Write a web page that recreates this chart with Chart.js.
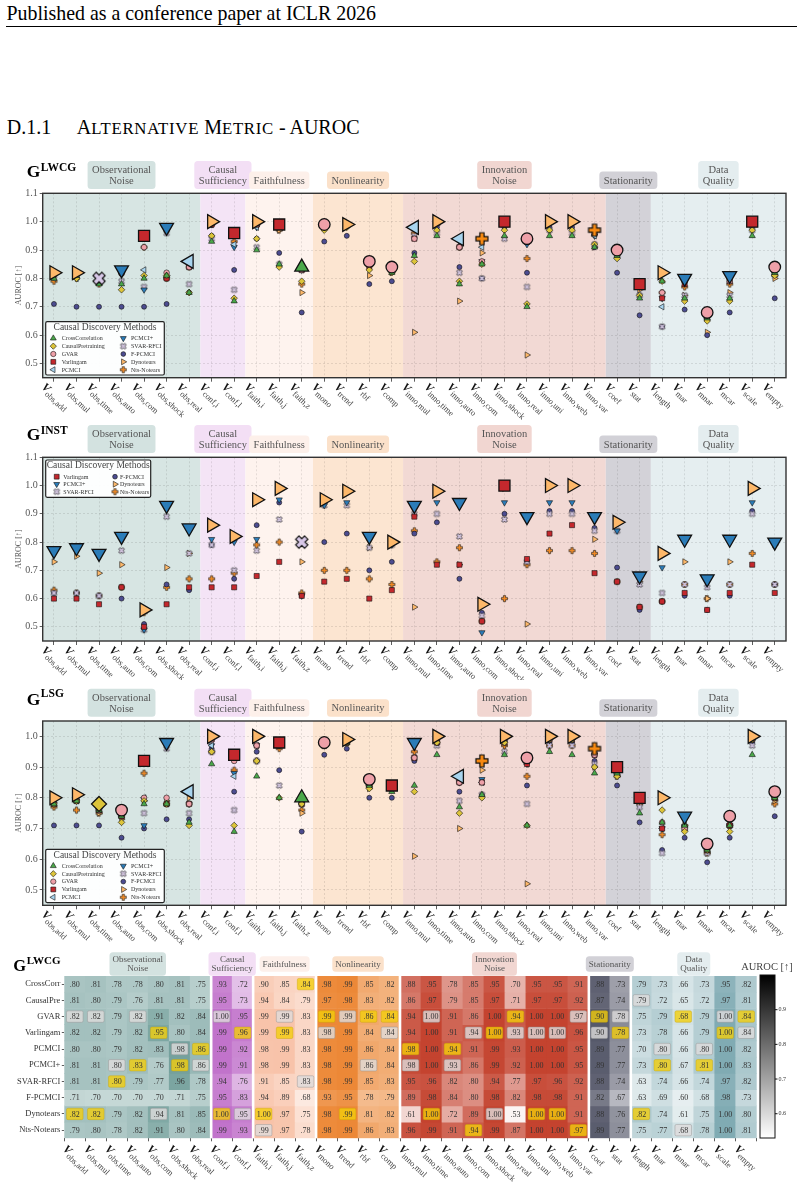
<!DOCTYPE html>
<html>
<head>
<meta charset="utf-8">
<script src="https://cdn.jsdelivr.net/npm/chart.js@4.4.1/dist/chart.umd.min.js"></script>
<style>
  body { margin: 0; background: #fff; width: 804px; height: 1186px; position: relative; overflow: hidden;
         font-family: "Liberation Serif", "Times New Roman", serif; color: #000; }
  canvas { position: absolute; left: 0; }
  .txt { position: absolute; white-space: nowrap; line-height: 1; }
  .sc { font-size: 16.8px; letter-spacing: 0.7px; }
</style>
</head>
<body>
<div class="txt" style="left:6.5px;top:4px;font-size:19.9px;">Published as a conference paper at ICLR 2026</div>
<div style="position:absolute;left:6px;top:26px;width:791px;border-top:1px solid #000;"></div>
<div class="txt" style="left:6.7px;top:116.6px;font-size:20px;">D.1.1</div>
<div class="txt" style="left:76.7px;top:116.6px;font-size:20px;">A<span class="sc">LTERNATIVE</span> M<span class="sc">ETRIC</span> - AUROC</div>

<canvas id="lwcg" width="804" height="270" style="top:150px"></canvas>
<canvas id="inst" width="804" height="260" style="top:420px"></canvas>
<canvas id="lsg" width="804" height="265" style="top:680px"></canvas>
<canvas id="heat" width="804" height="241" style="top:945px"></canvas>

<script>
var FONT = '"Liberation Serif", "Times New Roman", serif';

// ---- data ----
var columns = ['obs,add', 'obs,mul', 'obs,time', 'obs,auto', 'obs,com', 'obs,shock', 'obs,real',
  'conf,i', 'conf,l', 'faith,i', 'faith,j', 'faith,z', 'mono', 'trend', 'rbf', 'comp',
  'inno,mul', 'inno,time', 'inno,auto', 'inno,com', 'inno,shock', 'inno,real', 'inno,uni', 'inno,web', 'inno,var',
  'coef', 'stat', 'length', 'mar', 'mnar', 'mcar', 'scale', 'empty'];
var groupNames = [['Observational', 'Noise'], ['Causal', 'Sufficiency'], ['Faithfulness'], ['Nonlinearity'],
  ['Innovation', 'Noise'], ['Stationarity'], ['Data', 'Quality']];
var groupSizes = [7, 2, 3, 4, 9, 2, 6];

var methods = ['CrossCorrelation', 'CausalPretraining', 'GVAR', 'Varlingam', 'PCMCI', 'PCMCI+',
  'SVAR-RFCI', 'F-PCMCI', 'Dynotears', 'Nts-Notears'];
var heatRows = ['CrossCorr', 'CausalPre', 'GVAR', 'Varlingam', 'PCMCI', 'PCMCI+', 'SVAR-RFCI',
  'F-PCMCI', 'Dynotears', 'Nts-Notears'];

// G^LWCG (scatter + heatmap)
var lwcgCrossCorr = [.80, .81, .78, .78, .80, .81, .75, .93, .72, .90, .85, .84, .98, .99, .85, .82, .88, .95, .78, .85, .95, .70, .95, .95, .91, .88, .73, .79, .73, .66, .73, .95, .82];
var lwcgCausalPre = [.81, .80, .79, .76, .81, .81, .75, .95, .73, .94, .84, .79, .97, .98, .83, .82, .86, .97, .79, .85, .97, .71, .97, .97, .92, .87, .74, .79, .72, .65, .72, .97, .81];
var lwcgGVAR = [.82, .82, .79, .82, .91, .82, .84, 1.00, .95, .99, .99, .83, .99, .99, .86, .84, .94, 1.00, .91, .86, 1.00, .94, 1.00, 1.00, .97, .90, .78, .75, .79, .68, .79, 1.00, .84];
var lwcgVarlingam = [.82, .82, .79, .82, .95, .80, .84, .99, .96, .99, .99, .83, .98, .99, .84, .84, .94, 1.00, .91, .94, 1.00, .93, 1.00, 1.00, .96, .90, .78, .73, .78, .66, .79, 1.00, .84];
var lwcgPCMCI = [.80, .80, .79, .82, .83, .98, .86, .99, .92, .98, .99, .83, .98, .99, .86, .84, .98, 1.00, .94, .91, .99, .93, 1.00, 1.00, .95, .89, .77, .70, .80, .66, .80, 1.00, .82];
var lwcgPCMCIplus = [.81, .81, .80, .83, .76, .98, .86, .99, .91, .98, .99, .83, .98, .99, .86, .84, .98, 1.00, .93, .86, .99, .92, 1.00, 1.00, .95, .89, .77, .73, .80, .67, .81, 1.00, .83];
var lwcgSVAR = [.81, .81, .80, .79, .77, .96, .78, .94, .76, .91, .85, .83, .98, .99, .85, .83, .95, .96, .82, .80, .94, .77, .97, .96, .92, .88, .74, .63, .74, .66, .74, .97, .82];
var lwcgFPCMCI = [.71, .70, .70, .70, .70, .71, .75, .95, .83, .94, .89, .68, .93, .95, .78, .79, .89, .98, .84, .80, .98, .82, .98, .98, .91, .82, .67, .63, .69, .60, .68, .98, .73];
var lwcgDynotears = [.82, .82, .79, .82, .94, .81, .85, 1.00, .95, 1.00, .97, .75, .98, .99, .81, .82, .61, 1.00, .72, .89, 1.00, .53, 1.00, 1.00, .91, .88, .76, .82, .74, .61, .75, 1.00, .80];
var lwcgNts = [.79, .80, .78, .82, .91, .80, .84, .99, .93, .99, .97, .78, .98, .99, .86, .83, .96, .99, .91, .94, .99, .87, 1.00, 1.00, .97, .89, .77, .75, .77, .68, .78, 1.00, .81];
var lwcg = [lwcgCrossCorr, lwcgCausalPre, lwcgGVAR, lwcgVarlingam, lwcgPCMCI, lwcgPCMCIplus, lwcgSVAR, lwcgFPCMCI, lwcgDynotears, lwcgNts];
var bestLWCG = ['Dynotears', 'Dynotears', 'SVAR-RFCI', 'PCMCI+', 'Varlingam', 'PCMCI+', 'PCMCI', 'Dynotears', 'Varlingam',
  'Dynotears', 'Varlingam', 'CrossCorrelation', 'GVAR', 'Dynotears', 'GVAR', 'GVAR', 'PCMCI', 'Dynotears', 'PCMCI',
  'Nts-Notears', 'Varlingam', 'GVAR', 'Dynotears', 'Dynotears', 'Nts-Notears', 'GVAR', 'Varlingam', 'Dynotears',
  'PCMCI+', 'GVAR', 'PCMCI+', 'Varlingam', 'GVAR'];
var secondLWCG = ['GVAR', 'GVAR', 'PCMCI+', 'GVAR', 'Dynotears', 'PCMCI', 'PCMCI+', 'GVAR', 'Dynotears',
  'Nts-Notears', 'GVAR', 'SVAR-RFCI', 'Varlingam', 'GVAR', 'PCMCI+', 'Varlingam', 'PCMCI+', 'GVAR', 'PCMCI+',
  'Varlingam', 'Dynotears', 'Varlingam', 'Varlingam', 'Varlingam', 'GVAR', 'Varlingam', 'GVAR', 'CausalPretraining',
  'PCMCI', 'Nts-Notears', 'PCMCI', 'GVAR', 'Varlingam'];

// G^INST (six methods)
var instMethods = ['Varlingam', 'PCMCI+', 'SVAR-RFCI', 'F-PCMCI', 'Dynotears', 'Nts-Notears'];
var instVarlingam = [.60, .60, .58, .64, .50, .58, .64, .64, .64, .68, .73, .61, .66, .67, .60, .63, .89, .72, .72, .52, 1.00, .74, .83, .86, .69, .66, .57, .59, .62, .56, .62, .72, .62];
var instPCMCIplus = [.77, .78, .76, .82, .49, .93, .85, .81, .80, .81, .95, .61, .93, .94, .82, .79, .93, .94, .94, .48, .94, .89, .94, .94, .89, .84, .68, .71, .81, .67, .81, .94, .80];
var instSVAR = [.62, .62, .61, .77, .49, .89, .76, .79, .70, .77, .88, .80, .93, .93, .78, .79, .90, .90, .82, .54, .88, .73, .90, .90, .84, .84, .65, .62, .65, .64, .65, .90, .65];
var instFPCMCI = [.62, .62, .61, .60, .51, .65, .63, .79, .67, .86, .94, .61, .80, .83, .70, .73, .83, .87, .67, .55, .90, .73, .91, .91, .85, .71, .56, .59, .61, .56, .61, .91, .65];
var instDynotears = [.73, .75, .69, .72, .56, .71, .76, .86, .82, .95, .99, .73, .95, .98, .78, .80, .57, .98, .72, .58, .99, .51, 1.00, 1.00, .81, .87, .66, .76, .73, .60, .73, .99, .79];
var instNts = [.63, .62, .61, .64, .55, .64, .67, .67, .69, .79, .80, .62, .70, .70, .67, .65, .84, .73, .78, .52, .60, .72, .77, .77, .76, .66, .57, .59, .65, .60, .65, .76, .65];
var inst = [instVarlingam, instPCMCIplus, instSVAR, instFPCMCI, instDynotears, instNts];
var bestINST = ['PCMCI+', 'PCMCI+', 'PCMCI+', 'PCMCI+', 'Dynotears', 'PCMCI+', 'PCMCI+', 'Dynotears', 'Dynotears',
  'Dynotears', 'Dynotears', 'SVAR-RFCI', 'Dynotears', 'Dynotears', 'PCMCI+', 'Dynotears', 'PCMCI+', 'Dynotears',
  'PCMCI+', 'Dynotears', 'Varlingam', 'PCMCI+', 'Dynotears', 'Dynotears', 'PCMCI+', 'Dynotears', 'PCMCI+',
  'Dynotears', 'PCMCI+', 'PCMCI+', 'PCMCI+', 'Dynotears', 'PCMCI+'];

// G^LSG
var lsgCrossCorr = [.78, .79, .76, .74, .78, .78, .72, .91, .69, .87, .80, .80, .97, .98, .84, .82, .84, .94, .77, .81, .94, .71, .95, .94, .88, .88, .75, .72, .71, .63, .71, .94, .80];
var lsgCausalPre = [.78, .79, .78, .72, .79, .78, .71, .95, .71, .92, .80, .78, .97, .98, .83, .83, .82, .98, .75, .80, .98, .71, .99, .99, .90, .87, .79, .76, .69, .63, .69, .99, .80];
var lsgGVAR = [.78, .79, .76, .76, .80, .80, .78, .99, .92, .97, .97, .78, .98, .98, .86, .83, .93, .98, .85, .85, .98, .93, .99, .99, .94, .88, .79, .72, .70, .65, .74, .99, .82];
var lsgVarlingam = [.78, .79, .76, .74, .92, .78, .78, .99, .94, .97, .98, .78, .97, .98, .84, .84, .93, .98, .85, .85, .98, .91, .99, .99, .94, .90, .80, .70, .70, .63, .71, .99, .80];
var lsgPCMCI = [.78, .79, .76, .74, .80, .78, .82, .97, .87, .97, .97, .78, .97, .98, .84, .83, .93, .98, .87, .85, .98, .91, .99, .99, .94, .88, .79, .70, .71, .63, .71, .99, .80];
var lsgPCMCIplus = [.78, .79, .76, .74, .71, .98, .78, .97, .88, .97, .97, .78, .97, .98, .84, .83, .98, .98, .85, .86, .98, .91, .99, .99, .94, .88, .79, .70, .74, .63, .71, .99, .80];
var lsgSVAR = [.78, .79, .76, .74, .75, .96, .75, .95, .76, .92, .84, .78, .97, .98, .84, .83, .93, .97, .79, .81, .95, .78, .97, .97, .91, .88, .77, .62, .70, .62, .71, .97, .80];
var lsgFPCMCI = [.71, .71, .71, .67, .70, .73, .73, .96, .82, .95, .89, .69, .94, .96, .80, .80, .92, .98, .82, .81, .99, .84, .98, .98, .92, .84, .72, .63, .67, .59, .67, .98, .74];
var lsgDynotears = [.80, .81, .75, .73, .79, .79, .80, 1.00, .93, 1.00, .97, .75, .97, .99, .83, .83, .61, 1.00, .70, .89, 1.00, .52, 1.00, 1.00, .90, .87, .78, .80, .71, .62, .71, 1.00, .79];
var lsgNts = [.77, .76, .75, .74, .88, .78, .78, .95, .89, .92, .96, .76, .97, .98, .84, .83, .95, .98, .85, .92, .97, .87, .97, .97, .96, .87, .78, .68, .71, .62, .71, .99, .78];
var lsg = [lsgCrossCorr, lsgCausalPre, lsgGVAR, lsgVarlingam, lsgPCMCI, lsgPCMCIplus, lsgSVAR, lsgFPCMCI, lsgDynotears, lsgNts];
var bestLSG = ['Dynotears', 'Dynotears', 'CausalPretraining', 'GVAR', 'Varlingam', 'PCMCI+', 'PCMCI', 'Dynotears', 'Varlingam',
  'Dynotears', 'Varlingam', 'CrossCorrelation', 'GVAR', 'Dynotears', 'GVAR', 'Varlingam', 'PCMCI+', 'Dynotears', 'PCMCI',
  'Nts-Notears', 'Dynotears', 'GVAR', 'Dynotears', 'Dynotears', 'Nts-Notears', 'Varlingam', 'Varlingam', 'Dynotears',
  'PCMCI+', 'GVAR', 'GVAR', 'Dynotears', 'GVAR'];

// ---- styles ----
var bandColors = ['#d7e5e3', '#f4e4f6', '#fef3ee', '#fce5d1', '#f2d9d4', '#d3d2d8', '#e5eef0'];
var boxColors = ['#d3e2e0', '#f3dff5', '#fdf0ea', '#fbe1ca', '#f1d6d1', '#d2d1d7', '#e4edef'];
var heatDark = ['#6f9d99', '#c070ca', '#f8c2a8', '#ec8633', '#c4432f', '#2c2f45', '#80abb3'];

function plusShape(kind, a, b, fill, lw) {
  var s = Math.ceil(2 * a + 2 * lw + 3);
  var c = document.createElement('canvas');
  c.width = s; c.height = s;
  var g = c.getContext('2d');
  g.translate(s / 2, s / 2);
  if (kind === 'X') g.rotate(Math.PI / 4);
  var p = [[-b, -a], [b, -a], [b, -b], [a, -b], [a, b], [b, b], [b, a], [-b, a], [-b, b], [-a, b], [-a, -b], [-b, -b]];
  g.beginPath();
  p.forEach(function (q, i) { if (i) g.lineTo(q[0], q[1]); else g.moveTo(q[0], q[1]); });
  g.closePath();
  g.fillStyle = fill; g.fill();
  g.lineWidth = lw; g.strokeStyle = '#111'; g.stroke();
  return c;
}

var mStyle = {
  'CrossCorrelation': { fill: '#4aa84a', style: 'triangle', rot: 0, r: 3.6, R: 8 },
  'CausalPretraining': { fill: '#dcc43a', style: 'rectRot', rot: 0, r: 3.3, R: 7.5 },
  'GVAR': { fill: '#eea0a8', style: 'circle', rot: 0, r: 2.8, R: 5.8 },
  'Varlingam': { fill: '#c4282d', style: 'rect', rot: 0, r: 3.6, R: 7.8 },
  'PCMCI': { fill: '#a8d4ee', style: 'triangle', rot: -90, r: 3.6, R: 8 },
  'PCMCI+': { fill: '#2b7cb8', style: 'triangle', rot: 180, r: 3.6, R: 8 },
  'SVAR-RFCI': { fill: '#cfc2dc', img: plusShape('X', 3.1, 1.1, '#cfc2dc', 0.6), Img: plusShape('X', 6.3, 2.3, '#d8c8e8', 1.2) },
  'F-PCMCI': { fill: '#4c4c90', style: 'circle', rot: 0, r: 2.5, R: 5.6 },
  'Dynotears': { fill: '#fdb86a', style: 'triangle', rot: 90, r: 3.6, R: 8 },
  'Nts-Notears': { fill: '#f48a22', img: plusShape('P', 3, 1.1, '#f48a22', 0.6), Img: plusShape('P', 6, 2.1, '#f88a12', 1.2) }
};

function rrect(ctx, x, y, w, h, r) {
  ctx.beginPath();
  ctx.moveTo(x + r, y);
  ctx.lineTo(x + w - r, y); ctx.quadraticCurveTo(x + w, y, x + w, y + r);
  ctx.lineTo(x + w, y + h - r); ctx.quadraticCurveTo(x + w, y + h, x + w - r, y + h);
  ctx.lineTo(x + r, y + h); ctx.quadraticCurveTo(x, y + h, x, y + h - r);
  ctx.lineTo(x, y + r); ctx.quadraticCurveTo(x, y, x + r, y);
  ctx.closePath();
}

function drawTitle(ctx, x, baseG, baseSup, sup, gSize, supSize) {
  ctx.save();
  ctx.fillStyle = '#000';
  ctx.textBaseline = 'alphabetic';
  ctx.textAlign = 'left';
  ctx.font = 'bold ' + gSize + 'px ' + FONT;
  ctx.fillText('G', x, baseG);
  var w = ctx.measureText('G').width;
  ctx.font = 'bold ' + supSize + 'px ' + FONT;
  ctx.fillText(sup, x + w + 0.5, baseSup);
  ctx.restore();
}

// group label boxes; mode 'bottom' aligns boxes on bottom, 'center' centers them
function drawGroupBoxes(ctx, xs, o) {
  var start = 0;
  ctx.save();
  ctx.font = o.font + 'px ' + FONT;
  ctx.textAlign = 'center';
  ctx.textBaseline = 'middle';
  for (var g = 0; g < groupSizes.length; g++) {
    var x0 = xs.getPixelForValue(start - 0.5), x1 = xs.getPixelForValue(start + groupSizes[g] - 0.5);
    var cx = (x0 + x1) / 2, lines = groupNames[g];
    var w = 0;
    lines.forEach(function (t) { w = Math.max(w, ctx.measureText(t).width); });
    w += 2 * o.pad;
    var h = lines.length === 2 ? o.twoH : o.oneH;
    var top = o.mode === 'bottom' ? o.y - h : o.y - h / 2;
    ctx.fillStyle = boxColors[g];
    rrect(ctx, cx - w / 2, top, w, h, 3.5);
    ctx.fill();
    ctx.fillStyle = '#555';
    for (var l = 0; l < lines.length; l++) {
      var ty = top + h / 2 + (l - (lines.length - 1) / 2) * o.lineH + 0.5;
      ctx.fillText(lines[l], cx, ty);
    }
    start += groupSizes[g];
  }
  ctx.restore();
}

function drawVLabels(ctx, xs, bottom, dx, dy) {
  ctx.save();
  for (var i = 0; i < columns.length; i++) {
    var x = xs.getPixelForValue(i);
    ctx.save();
    ctx.translate(x + dx, bottom + dy);
    ctx.rotate(43 * Math.PI / 180);
    ctx.textBaseline = 'alphabetic';
    ctx.textAlign = 'left';
    ctx.fillStyle = '#111';
    ctx.font = 'italic bold 11.5px ' + FONT;
    ctx.fillText('V', 0, 0);
    var w = ctx.measureText('V').width;
    ctx.font = '8.5px ' + FONT;
    ctx.fillStyle = '#444';
    ctx.fillText(columns[i], w - 0.5, 2.8);
    ctx.restore();
  }
  ctx.restore();
}

function legendMarker(ctx, name, x, y) {
  var m = mStyle[name];
  if (m.img) { ctx.drawImage(m.img, x - m.img.width / 2, y - m.img.height / 2); return; }
  ctx.fillStyle = m.fill; ctx.strokeStyle = '#111'; ctx.lineWidth = 0.6;
  Chart.helpers.drawPoint(ctx, { pointStyle: m.style, radius: m.r * 0.95, rotation: m.rot, borderWidth: 0.6 }, x, y);
}

function drawLegend(ctx, L, names) {
  ctx.save();
  ctx.fillStyle = 'rgba(255,255,255,0.95)';
  rrect(ctx, L.x, L.y, L.w, L.h, 1.5);
  ctx.fill();
  ctx.strokeStyle = '#222'; ctx.lineWidth = 1.2; ctx.stroke();
  ctx.fillStyle = '#444'; ctx.font = '9.5px ' + FONT;
  ctx.textAlign = 'center'; ctx.textBaseline = 'middle';
  ctx.fillText('Causal Discovery Methods', L.x + L.w / 2, L.y + L.titleDy);
  var rows = Math.ceil(names.length / 2);
  names.forEach(function (name, n) {
    var col = Math.floor(n / rows), row = n % rows;
    var y = L.y + L.rowDy + row * L.rowStep;
    legendMarker(ctx, name, L.x + (col ? L.m2 : L.m1), y);
    ctx.fillStyle = '#333'; ctx.font = '6px ' + FONT; ctx.textAlign = 'left'; ctx.textBaseline = 'middle';
    ctx.fillText(name, L.x + (col ? L.t2 : L.t1), y + 0.3);
  });
  ctx.restore();
}

function scatterChart(id, cfg, names, vals, best) {
  var datasets = [];
  names.forEach(function (name, k) {
    var m = mStyle[name];
    datasets.push({
      label: name, data: vals[k], showLine: false, order: 2, clip: false,
      pointStyle: m.img || m.style, pointRotation: m.rot || 0, pointRadius: m.r,
      pointBackgroundColor: m.fill, pointBorderColor: '#111', pointBorderWidth: 0.6
    });
  });
  names.forEach(function (name, k) {
    var m = mStyle[name];
    datasets.push({
      label: name + ' best', showLine: false, order: 1, clip: false,
      data: vals[k].map(function (v, j) { return best[j] === name ? v : null; }),
      pointStyle: m.Img || m.style, pointRotation: m.rot || 0, pointRadius: m.R,
      pointBackgroundColor: m.fill, pointBorderColor: '#111', pointBorderWidth: 1.3
    });
  });

  var deco = {
    id: 'deco',
    beforeDraw: function (chart) {
      var ctx = chart.ctx, a = chart.chartArea, xs = chart.scales.x, start = 0;
      for (var g = 0; g < groupSizes.length; g++) {
        var x0 = Math.max(a.left, xs.getPixelForValue(start - 0.5));
        var x1 = Math.min(a.right, xs.getPixelForValue(start + groupSizes[g] - 0.5));
        ctx.fillStyle = bandColors[g];
        ctx.fillRect(x0, a.top, x1 - x0, a.bottom - a.top);
        start += groupSizes[g];
      }
    },
    afterDraw: function (chart) {
      var ctx = chart.ctx, a = chart.chartArea, xs = chart.scales.x;
      ctx.save();
      ctx.strokeStyle = '#333'; ctx.lineWidth = 1.4;
      ctx.strokeRect(a.left, a.top, a.right - a.left, a.bottom - a.top);
      ctx.restore();
      drawGroupBoxes(ctx, xs, { mode: 'bottom', y: a.top - 4.2, font: 10.5, pad: 4.5, twoH: 28, oneH: 17.5, lineH: 11 });
      drawTitle(ctx, 26.7, cfg.titleBase, cfg.supBase, cfg.title, 17.5, 11.5);
      drawVLabels(ctx, xs, a.bottom, -13, 10);
      var L = cfg.legend;
      var box = Object.assign({}, L, { x: a.left + 3, y: L.atTop ? a.top + 2.7 : a.bottom - 2.7 - L.h });
      drawLegend(ctx, box, names);
    }
  };

  return new Chart(document.getElementById(id), {
    type: 'line',
    data: { labels: columns, datasets: datasets },
    options: {
      responsive: false, animation: false, events: [],
      layout: { padding: { top: cfg.padTop, left: 14, right: 18, bottom: 0 } },
      plugins: { legend: { display: false }, tooltip: { enabled: false } },
      scales: {
        x: {
          type: 'category', offset: true,
          afterFit: function (s) { s.height = cfg.xh; },
          ticks: { display: false },
          grid: { color: 'rgba(0,0,0,0.14)', lineWidth: 0.7, tickColor: '#333', tickLength: 4, tickWidth: 0.8 },
          border: { display: false, dash: [2, 2] }
        },
        y: {
          min: 0.45, max: cfg.yMax,
          afterFit: function (s) { s.width = 28.7; },
          afterBuildTicks: function (s) {
            var t = [];
            for (var v = 5; v <= Math.floor(cfg.yMax * 10 + 1e-6); v++) t.push({ value: v / 10 });
            s.ticks = t;
          },
          ticks: { color: '#555', font: { family: FONT, size: 10 }, padding: 2,
            callback: function (v) { return v.toFixed(1); } },
          grid: { color: 'rgba(0,0,0,0.14)', lineWidth: 0.7, tickColor: '#333', tickLength: 3, tickWidth: 0.8 },
          border: { display: false, dash: [2, 2] },
          title: { display: true, text: 'AUROC [\u2191]', color: '#555', font: { family: FONT, size: 8 }, padding: { top: 0, bottom: 1 } }
        }
      }
    },
    plugins: [deco]
  });
}

var legendBig = { atTop: false, w: 118.6, h: 53.3, titleDy: 6, rowDy: 16.6, rowStep: 7.85, m1: 7.6, t1: 16, m2: 77.6, t2: 85.3 };
var legendSmall = { atTop: true, w: 105, h: 37.3, titleDy: 5.7, rowDy: 16.7, rowStep: 7.5, m1: 11, t1: 17.6, m2: 69.3, t2: 74.3 };

scatterChart('lwcg', { padTop: 43.3, xh: 42.3, yMax: 1.1, title: 'LWCG', titleBase: 26.7, supBase: 20.7, legend: legendBig }, methods, lwcg, bestLWCG);
scatterChart('inst', { padTop: 37.3, xh: 39, yMax: 1.1, title: 'INST', titleBase: 20, supBase: 13.5, legend: legendSmall }, instMethods, inst, bestINST);
scatterChart('lsg', { padTop: 41, xh: 39.7, yMax: 1.05, title: 'LSG', titleBase: 25, supBase: 17.3, legend: legendBig }, methods, lsg, bestLSG);

// ---- heatmap ----
function groupOf(j) {
  var s = 0;
  for (var g = 0; g < groupSizes.length; g++) { s += groupSizes[g]; if (j < s) return g; }
  return groupSizes.length - 1;
}
function hex(c) { return [parseInt(c.substr(1, 2), 16), parseInt(c.substr(3, 2), 16), parseInt(c.substr(5, 2), 16)]; }
function cellColor(j, v) {
  var t = Math.max(0, Math.min(1, (v - 0.5) / 0.5));
  var d = hex(heatDark[groupOf(j)]);
  var c = d.map(function (x) { return Math.round(255 - t * (255 - x)); });
  return 'rgb(' + c.join(',') + ')';
}

var heatPlugin = {
  id: 'heatDeco',
  afterDatasetsDraw: function (chart) {
    var ctx = chart.ctx, a = chart.chartArea, xs = chart.scales.x;
    ctx.save();
    for (var r = 0; r < heatRows.length; r++) {
      var meta = chart.getDatasetMeta(r);
      for (var j = 0; j < columns.length; j++) {
        var el = meta.data[j];
        var cx = el.x, cy = (el.y + el.base) / 2, w = el.width, h = Math.abs(el.base - el.y);
        var name = methods[r], kind = null;
        if (bestLWCG[j] === name) kind = 'best'; else if (secondLWCG[j] === name) kind = 'second';
        if (kind) {
          ctx.fillStyle = kind === 'best' ? 'rgba(244,206,10,0.78)' : 'rgba(222,220,220,0.8)';
          ctx.strokeStyle = kind === 'best' ? 'rgba(200,165,0,0.5)' : 'rgba(150,150,150,0.6)';
          ctx.lineWidth = 0.8;
          rrect(ctx, cx - w / 2 + 2.2, cy - h / 2 + 2.4, w - 4.4, h - 4.8, 1.5);
          ctx.fill(); ctx.stroke();
        }
        var v = lwcg[r][j];
        ctx.fillStyle = '#333';
        ctx.font = '8px ' + FONT;
        ctx.textAlign = 'center'; ctx.textBaseline = 'middle';
        ctx.fillText(v >= 1 ? '1.00' : v.toFixed(2).slice(1), cx, cy + 0.5);
      }
    }
    // white separators between groups
    var start = 0;
    ctx.strokeStyle = '#fff'; ctx.lineWidth = 2.6;
    for (var g = 0; g < groupSizes.length - 1; g++) {
      start += groupSizes[g];
      var x = xs.getPixelForValue(start - 0.5);
      ctx.beginPath(); ctx.moveTo(x, a.top); ctx.lineTo(x, a.bottom); ctx.stroke();
    }
    ctx.restore();
  },
  afterDraw: function (chart) {
    var ctx = chart.ctx, a = chart.chartArea, xs = chart.scales.x;
    drawGroupBoxes(ctx, xs, { mode: 'center', y: 19, font: 9, pad: 3, twoH: 23.7, oneH: 15.5, lineH: 8.8 });
    drawTitle(ctx, 13.3, 26, 19.3, 'LWCG', 16.5, 11);
    drawVLabels(ctx, xs, a.bottom, -12.5, 11.5);
    // colorbar
    var bx = 760, bw = 15, by0 = 30, by1 = 193, lo = 0.53, hi = 1.0;
    var grad = ctx.createLinearGradient(0, by0, 0, by1);
    grad.addColorStop(0, '#000'); grad.addColorStop(1, '#fff');
    ctx.save();
    ctx.fillStyle = grad; ctx.fillRect(bx, by0, bw, by1 - by0);
    ctx.strokeStyle = '#111'; ctx.lineWidth = 1; ctx.strokeRect(bx, by0, bw, by1 - by0);
    ctx.fillStyle = '#333'; ctx.font = '6px ' + FONT; ctx.textAlign = 'left'; ctx.textBaseline = 'middle';
    [0.6, 0.7, 0.8, 0.9].forEach(function (t) {
      var y = by1 - (t - lo) / (hi - lo) * (by1 - by0);
      ctx.beginPath(); ctx.moveTo(bx + bw, y); ctx.lineTo(bx + bw + 2.5, y); ctx.stroke();
      ctx.fillText(t.toFixed(1), bx + bw + 3.5, y);
    });
    ctx.fillStyle = '#444'; ctx.font = '10.5px ' + FONT; ctx.textAlign = 'center'; ctx.textBaseline = 'alphabetic';
    ctx.fillText('AUROC [\u2191]', 767, 25);
    ctx.restore();
  }
};

new Chart(document.getElementById('heat'), {
  type: 'bar',
  data: {
    labels: columns,
    datasets: heatRows.map(function (row, i) {
      return {
        label: row,
        data: columns.map(function () { return [i, i + 1]; }),
        backgroundColor: function (c) { return cellColor(c.dataIndex, lwcg[i][c.dataIndex]); },
        barPercentage: 1, categoryPercentage: 1, grouped: false, borderWidth: 0
      };
    })
  },
  options: {
    responsive: false, animation: false, events: [],
    layout: { padding: { top: 31, right: 47.3, left: 0, bottom: 0 } },
    plugins: { legend: { display: false }, tooltip: { enabled: false } },
    scales: {
      x: {
        afterFit: function (s) { s.height = 47.7; },
        ticks: { display: false },
        grid: { display: true, drawOnChartArea: false, tickLength: 3, tickColor: '#333', tickWidth: 0.8 },
        border: { display: false }
      },
      y: {
        min: 0, max: 10, reverse: true,
        afterFit: function (s) { s.width = 64.3; },
        afterBuildTicks: function (s) { s.ticks = heatRows.map(function (r, i) { return { value: i + 0.5 }; }); },
        ticks: { color: '#333', font: { family: FONT, size: 8.5 }, padding: 1.5,
          callback: function (v, i) { return heatRows[i]; } },
        grid: { display: true, drawOnChartArea: false, tickLength: 2.5, tickColor: '#333', tickWidth: 0.8 },
        border: { display: false }
      }
    }
  },
  plugins: [heatPlugin]
});
</script>
</body>
</html>
